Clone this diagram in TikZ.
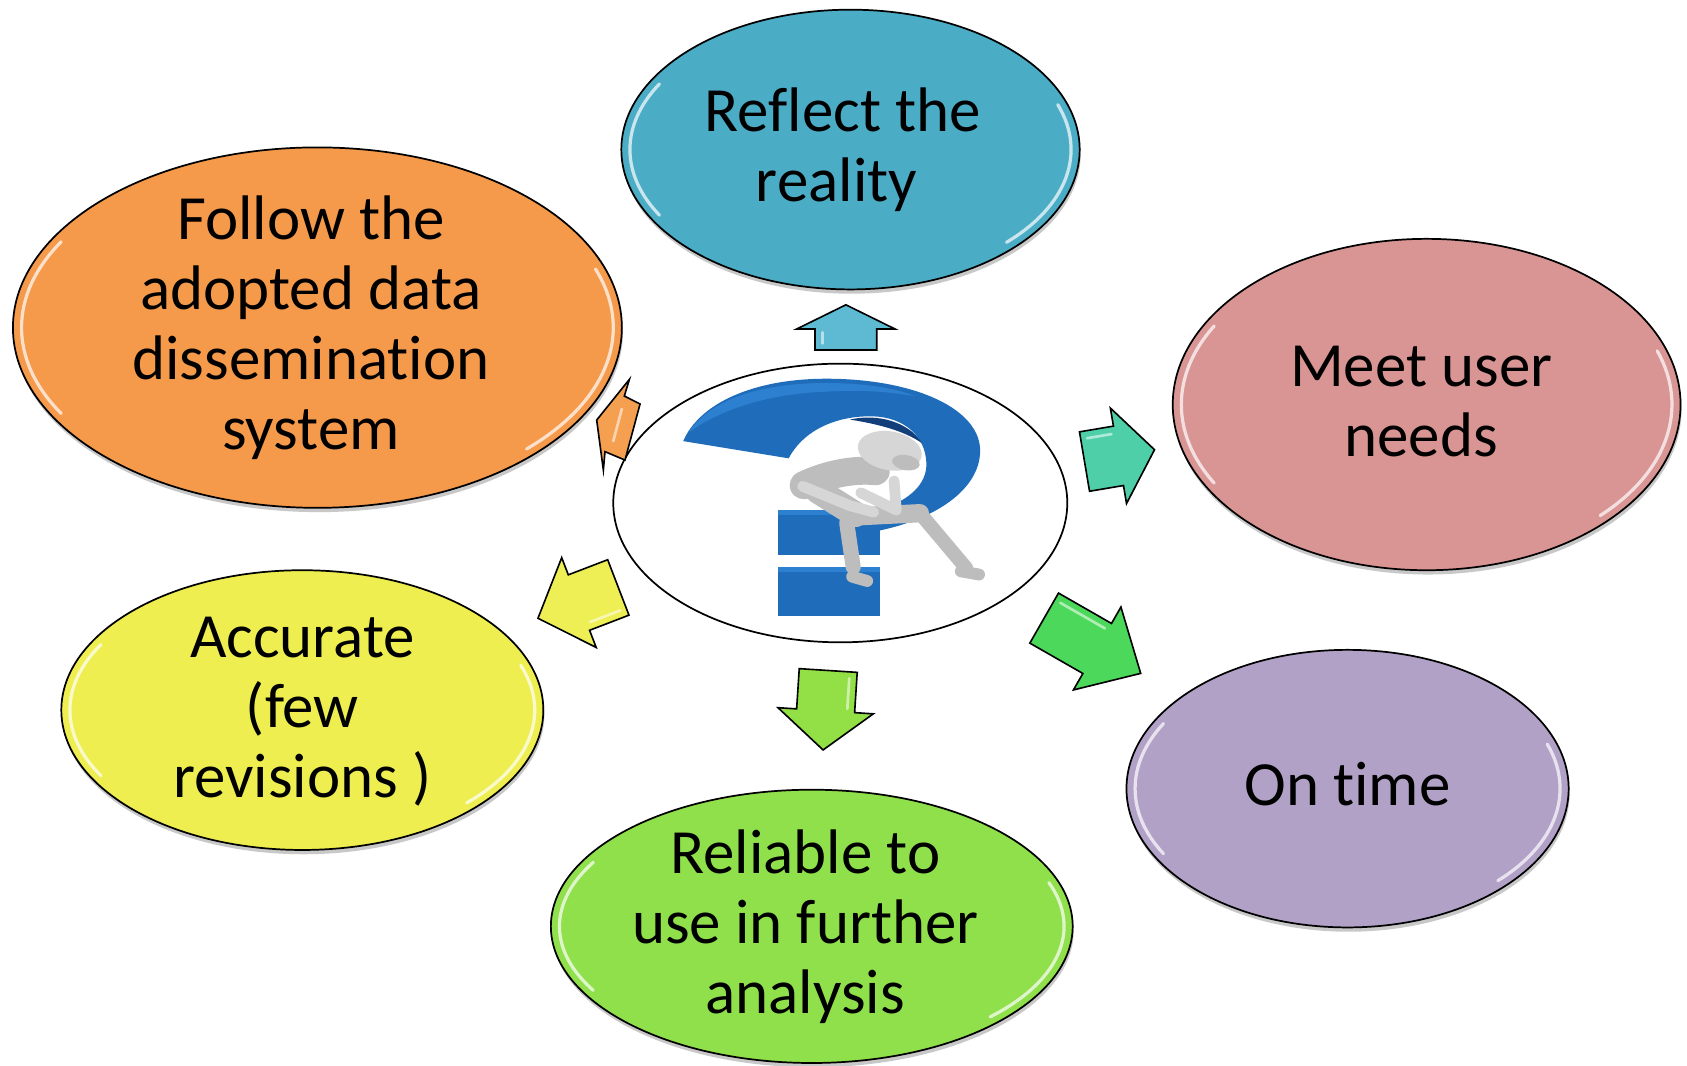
\documentclass[tikz,border=0pt]{standalone}
\usepackage{fontspec}
\setmainfont{Carlito}[Ligatures={NoCommon,NoContextual}]
\usetikzlibrary{shapes.geometric,shadows}
\definecolor{cOrange}{HTML}{F5994A}
\definecolor{cBlue}{HTML}{4BACC6}
\definecolor{cPink}{HTML}{D99594}
\definecolor{cPurple}{HTML}{B2A1C7}
\definecolor{cGreen}{HTML}{8FE04B}
\definecolor{cYellow}{HTML}{EEEE50}
\definecolor{aBlue}{HTML}{5DBAD2}
\definecolor{aTeal}{HTML}{4ECFA8}
\definecolor{aGreen}{HTML}{4CD85A}
\definecolor{aLime}{HTML}{92E046}
\definecolor{aYellow}{HTML}{EEEE55}
\definecolor{aOrange}{HTML}{F5A050}
\definecolor{qBlue}{HTML}{1F6DBA}
\definecolor{qLight}{HTML}{2D80CF}
\definecolor{qDark}{HTML}{123F7A}
\definecolor{figGray}{HTML}{BDBDBD}
\definecolor{figLight}{HTML}{D6D6D6}
\tikzset{
  bubble/.style={ellipse, draw=black, line width=1.6pt, inner sep=0pt,
    drop shadow={shadow xshift=1pt, shadow yshift=-4pt, opacity=.3, fill=black!70}},
  hub/.style={ellipse, draw=black, line width=1.6pt, inner sep=0pt, fill=white},
  btext/.style={align=center, inner sep=0pt, font=\fontsize{58.5}{65}\selectfont},
  glossline/.style={white, opacity=.7, line width=3pt, line cap=round},
  arrowline/.style={draw=black, line width=1.5pt, line join=miter},
  arrowgloss/.style={white, opacity=.55, line width=2.5pt, line cap=round},
  limb/.style={figGray, line cap=round, line join=round},
}
\newcommand{\blockarrow}[8]{%
  \begin{scope}[shift={(#2,#3)}, rotate=#4]
    \draw[arrowline, fill=#1] (0,-#7) -- (#5,-#7) -- (#5,-#8) -- ({#5+#6},0)
      -- (#5,#8) -- (#5,#7) -- (0,#7) -- cycle;
    \draw[arrowgloss] (6,{-#7+7}) -- ({#5-3},{-#7+7});
  \end{scope}}
\newcommand{\gloss}[4]{%
  \draw[glossline] ({#1+(#3-8)*cos(150)},{#2+(#4-8)*sin(150)})
     arc[start angle=150, end angle=210, x radius=#3-8, y radius=#4-8];
  \draw[glossline] ({#1+(#3-8)*cos(-20)},{#2+(#4-8)*sin(-20)})
     arc[start angle=-20, end angle=45, x radius=#3-8, y radius=#4-8];}
\begin{document}
\begin{tikzpicture}[x=1pt,y=-1pt]
\useasboundingbox (0,0) rectangle (1568,990);
\fill[white] (0,0) rectangle (1568,990);

% outer bubbles
\node[bubble, fill=cOrange, minimum width=566pt, minimum height=335pt] (follow) at (295,304.5) {};
\node[bubble, fill=cBlue,   minimum width=426pt, minimum height=260pt] (reflect) at (790.5,139) {};
\node[bubble, fill=cPink,   minimum width=472pt, minimum height=308pt] (meet) at (1326,376) {};
\node[bubble, fill=cPurple, minimum width=411pt, minimum height=258pt] (ontime) at (1252.5,733) {};
\node[bubble, fill=cGreen,  minimum width=485pt, minimum height=254pt] (reliable) at (754.5,861) {};
\node[bubble, fill=cYellow, minimum width=448pt, minimum height=260pt] (accurate) at (281,660) {};

\gloss{295}{304.5}{283}{167.5}
\gloss{790.5}{139}{213}{130}
\gloss{1326}{376}{236}{154}
\gloss{1252.5}{733}{205.5}{129}
\gloss{754.5}{861}{242.5}{127}
\gloss{281}{660}{224}{130}

% texts
\node[btext] (followtxt) at ([xshift=-6pt,yshift=-3pt]follow.center) {\strut Follow the\\adopted data\\dissemination\\system\strut};
\node[btext] (reflecttxt) at ([xshift=-7pt,yshift=-3pt]reflect.center) {\strut Reflect the\\reality\hspace*{12pt}\strut};
\node[btext] (meettxt) at ([xshift=-5pt,yshift=-3pt]meet.center) {\strut Meet user\\needs\strut};
\node[btext] (ontimetxt) at ([yshift=-3pt]ontime.center) {\strut On time\strut};
\node[btext] (reliabletxt) at ([xshift=-6pt,yshift=-3pt]reliable.center) {\strut Reliable to\\use in further\\analysis\strut};
\node[btext] (accuratetxt) at ([yshift=-3pt]accurate.center) {\strut Accurate\\(few\\revisions )\strut};

% hub
\node[hub, minimum width=422pt, minimum height=259pt] (hub) at (781,467.5) {};

% question mark: stem, dot, curve
\fill[qBlue] (723.5,474) rectangle (818,516);
\fill[qLight] (723.5,474) rectangle (818,479);
\fill[qBlue] (723.5,527) rectangle (818,573);
\fill[qLight] (723.5,527) rectangle (818,532);
\fill[qBlue] (635,410) .. controls (650,375) and (700,352) .. (768,352)
  .. controls (850,352) and (912,380) .. (911,420)
  .. controls (910,455) and (870,482) .. (818,493) -- (818,474)
  .. controls (845,465) and (862,450) .. (861,430)
  .. controls (860,405) and (840,388) .. (812,387)
  .. controls (780,386) and (748,398) .. (733,426) -- cycle;
\fill[qLight] (640,402) .. controls (660,372) and (705,356) .. (768,356)
  .. controls (800,356) and (830,360) .. (850,368)
  .. controls (825,364) and (800,362) .. (768,364)
  .. controls (715,366) and (670,380) .. (640,402) -- cycle;
\fill[qDark] (790,390) .. controls (815,384) and (845,392) .. (857,412)
  .. controls (840,400) and (815,394) .. (790,390) -- cycle;

% thinking figure
\draw[limb, line width=26pt] (747,451) .. controls (770,440) and (795,436) .. (814,438);
\draw[limb, line width=24pt] (760,456) -- (795,478);
\draw[limb, line width=17pt] (795,480) -- (855,477);
\draw[limb, line width=13pt] (855,477) -- (898,528);
\draw[limb, line width=11pt] (893,531) -- (910,534);
\draw[limb, line width=14pt] (787,486) -- (793,527);
\draw[limb, line width=11pt] (792,536) -- (806,540);
\draw[limb, line width=11pt] (814,438) -- (822,430);
\draw[limb, line width=10pt, figLight] (746,452) -- (790,470) -- (812,476);
\draw[limb, line width=10pt, figLight] (800,458) -- (833,474) -- (831,447);
\fill[figLight] (827,419) ellipse[x radius=30, y radius=18, rotate=-10];
\fill[figGray] (842,430) ellipse[x radius=13, y radius=7, rotate=-10];

% block arrows
\blockarrow{aBlue}{786.2}{325.3}{90}{19.5}{22.5}{28.7}{45.7}
\blockarrow{aTeal}{1008}{429}{9.6}{32}{34}{28}{45}
\blockarrow{aGreen}{970.5}{574.5}{-29.8}{56.8}{46.6}{26.8}{44.4}
\blockarrow{aLime}{769.8}{623.2}{-93.7}{37.5}{36.5}{27}{44.4}
\blockarrow{aYellow}{574.7}{546}{-159}{39.2}{40.8}{27.6}{44.7}
\draw[arrowline, fill=aOrange] (585,352.6) -- (580.3,368.1) -- (594.9,375.5) -- (580.9,427.6)
  -- (562.3,419.8) -- (560.8,436.9) -- (554.6,390.4) -- cycle;
\draw[arrowgloss] (578,380) -- (570,410);
\end{tikzpicture}
\end{document}
